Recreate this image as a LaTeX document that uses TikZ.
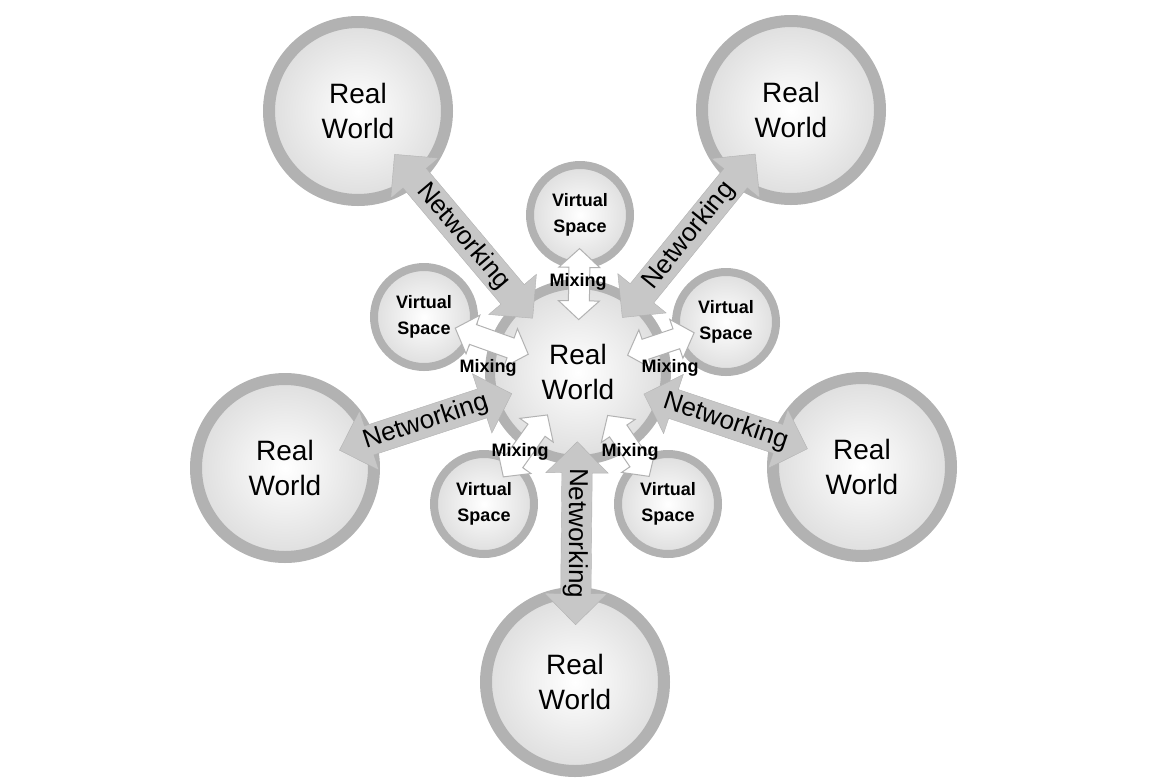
\documentclass[tikz,border=0pt]{standalone}
\usepackage{fontspec}
\setmainfont{Liberation Sans}
\usetikzlibrary{calc,shapes.arrows}
\pgfdeclarelayer{back}
\pgfdeclarelayer{mid}
\pgfsetlayers{back,mid,main}
\tikzset{
  world/.style={align=center,inner sep=1pt,font={\fontsize{28}{35}\selectfont}},
  vspace/.style={align=center,inner sep=1pt,font={\bfseries\fontsize{18}{26}\selectfont}},
  ring/.style={draw=black!30,line width=12pt,inner color=white,outer color=black!13},
  smallring/.style={draw=black!30,line width=8pt,inner color=white,outer color=black!13},
  netarrow/.style={double arrow,double arrow head extend=16pt,fill=black!22,draw=black!30,
    text height=19pt,text depth=5pt,inner ysep=3pt,inner xsep=2pt,font={\fontsize{26}{30}\selectfont}},
  mixarrow/.style={double arrow,double arrow head extend=10pt,double arrow tip angle=95,
    fill=white,draw=black!30,line width=1pt,inner ysep=10pt,inner xsep=0pt},
  mixlabel/.style={font={\bfseries\fontsize{18}{20}\selectfont},inner sep=1pt}
}
\begin{document}
\begin{tikzpicture}[x=1pt,y=-1pt]
\useasboundingbox (0,0) rectangle (1149,780);
\node[world] (c) at (578,372) {Real\\World};
\node[world] (tl) at (358,111) {Real\\World};
\node[world] (tr) at (791,110) {Real\\World};
\node[world] (l) at (285,468) {Real\\World};
\node[world] (r) at (862,467) {Real\\World};
\node[world] (b) at (575,682) {Real\\World};
\node[vspace] (vt) at (580,215) {Virtual\\Space};
\node[vspace] (vl) at (424,317) {Virtual\\Space};
\node[vspace] (vr) at (726,322) {Virtual\\Space};
\node[vspace] (vbl) at (484,504) {Virtual\\Space};
\node[vspace] (vbr) at (668,504) {Virtual\\Space};
\begin{pgfonlayer}{back}
\foreach \n in {tl,tr,l,r,b}
  \draw[ring] (\n.center) circle (89pt);
\draw[ring,line width=10pt] (c.center) circle (88pt);
\foreach \n in {vt,vl,vr,vbl,vbr}
  \draw[smallring] (\n.center) circle (50pt);
\end{pgfonlayer}
\begin{pgfonlayer}{mid}
\foreach \a/\b/\t [count=\i] in {tl/c/0.48,c/tr/0.52,l/c/0.48,c/r/0.52,c/b/0.52}
  \path let \p1=($(\b)-(\a)$), \n1={atan2(\y1,\x1)}, \n2={veclen(\x1,\y1)} in
    node[netarrow,rotate=\n1,minimum height=\n2-127] (net\i) at ($(\a)!\t!(\b)$) {Networking};
\foreach \v in {vt,vl,vr,vbl,vbr}
  \path let \p1=($(c)-(\v)$), \n1={atan2(\y1,\x1)}, \n2={veclen(\x1,\y1)} in
    node[mixarrow,rotate=\n1,minimum height=\n2-86] (mix\v) at ($(\v)!0.44!(c)$) {};
\end{pgfonlayer}
\node[mixlabel] (mt) at (578,282) {Mixing};
\node[mixlabel] (ml) at (488,368) {Mixing};
\node[mixlabel] (mr) at (670,368) {Mixing};
\node[mixlabel] (mbl) at (520,452) {Mixing};
\node[mixlabel] (mbr) at (630,452) {Mixing};
\end{tikzpicture}
\end{document}
